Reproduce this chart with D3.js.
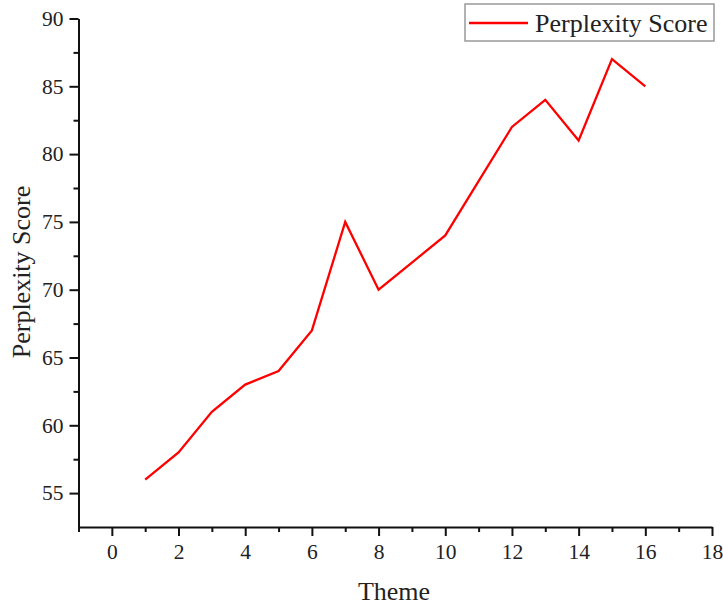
<!DOCTYPE html>
<html>
<head>
<meta charset="utf-8">
<script src="https://cdn.jsdelivr.net/npm/d3@7"></script>
<style>
  body { margin: 0; background: #fff; }
  svg text { font-family: "Liberation Serif", "Times New Roman", serif; fill: #222; }
</style>
</head>
<body>
<div id="chart"></div>
<script>
// data
const themes = [1, 2, 3, 4, 5, 6, 7, 8, 9, 10, 11, 12, 13, 14, 15, 16];
const perplexity = [56, 58, 61, 63, 64, 67, 75, 70, 72, 74, 78, 82, 84, 81, 87, 85];
const xTicks = [0, 2, 4, 6, 8, 10, 12, 14, 16, 18];
const yTicks = [55, 60, 65, 70, 75, 80, 85, 90];
const seriesName = "Perplexity Score";

const W = 723, H = 607;
const margin = { top: 18.5, right: 11, bottom: 80, left: 78.5 };
const width = W - margin.left - margin.right;
const height = H - margin.top - margin.bottom;

const svg = d3.select("#chart").append("svg")
    .attr("width", W)
    .attr("height", H);

const g = svg.append("g")
    .attr("transform", `translate(${margin.left},${margin.top})`);

const x = d3.scaleLinear().domain([-1, 18]).range([0, width]);
const y = d3.scaleLinear().domain([52.5, 90]).range([height, 0]);

// minor ticks first (no labels)
g.append("g")
    .attr("transform", `translate(0,${height})`)
    .call(d3.axisBottom(x).tickValues(d3.range(-1, 18, 2)).tickSize(5).tickFormat(""))
    .call(a => a.select(".domain").remove())
    .selectAll("line").attr("stroke", "#111").attr("stroke-width", 2);

g.append("g")
    .call(d3.axisLeft(y).tickValues(d3.range(57.5, 90, 5)).tickSize(5).tickFormat(""))
    .call(a => a.select(".domain").remove())
    .selectAll("line").attr("stroke", "#111").attr("stroke-width", 2);

// major axes
const xAxis = g.append("g")
    .attr("transform", `translate(0,${height})`)
    .call(d3.axisBottom(x).tickValues(xTicks).tickSize(9).tickSizeOuter(0).tickPadding(8));

const yAxis = g.append("g")
    .call(d3.axisLeft(y).tickValues(yTicks).tickSize(9).tickSizeOuter(0).tickPadding(6));

[xAxis, yAxis].forEach(a => {
    a.select(".domain").attr("stroke", "#111").attr("stroke-width", 2);
    a.selectAll(".tick line").attr("stroke", "#111").attr("stroke-width", 2);
    a.selectAll(".tick text").style("font-size", "21.5px").attr("fill", "#222");
});

// the line
const line = d3.line()
    .x((d, i) => x(themes[i]))
    .y(d => y(d));

g.append("path")
    .datum(perplexity)
    .attr("fill", "none")
    .attr("stroke", "#ff0000")
    .attr("stroke-width", 2.3)
    .attr("d", line);

// axis titles
svg.append("text")
    .attr("x", 394)
    .attr("y", 600)
    .attr("text-anchor", "middle")
    .style("font-size", "26px")
    .text("Theme");

svg.append("text")
    .attr("transform", "translate(30,272) rotate(-90)")
    .attr("text-anchor", "middle")
    .style("font-size", "26px")
    .text(seriesName);

// legend
const legend = svg.append("g").attr("transform", "translate(465,4)");
legend.append("rect")
    .attr("width", 249)
    .attr("height", 37)
    .attr("fill", "#fff")
    .attr("stroke", "#999")
    .attr("stroke-width", 1.5);
legend.append("line")
    .attr("x1", 4).attr("x2", 63)
    .attr("y1", 19).attr("y2", 19)
    .attr("stroke", "#ff0000")
    .attr("stroke-width", 2.3);
legend.append("text")
    .attr("x", 70)
    .attr("y", 28)
    .style("font-size", "26px")
    .text(seriesName);
</script>
</body>
</html>
